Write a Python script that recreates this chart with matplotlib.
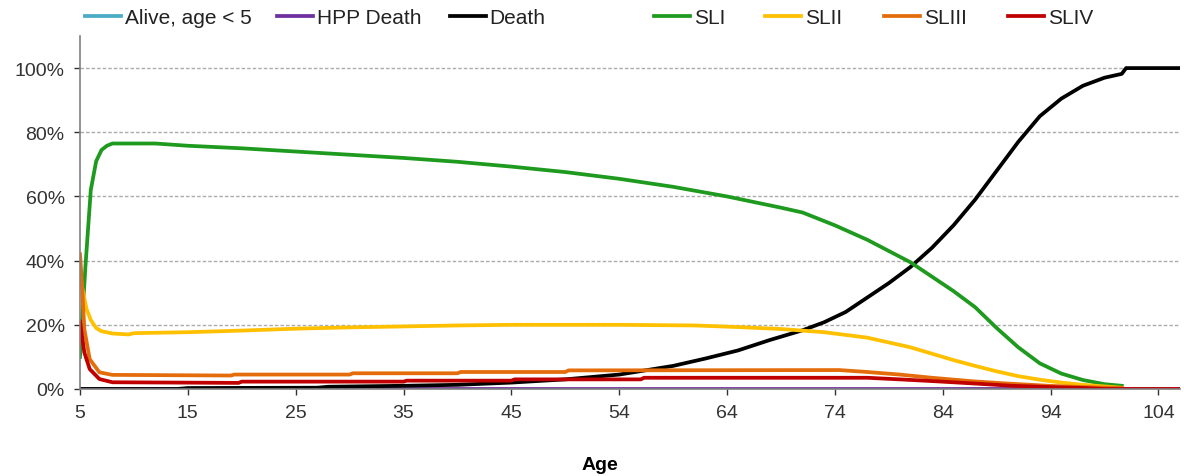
import numpy as np
import matplotlib.pyplot as plt
from matplotlib.lines import Line2D

plt.rcParams['font.family'] = ['Liberation Sans', 'DejaVu Sans']

# series (age, percent)
alive_age = []
alive = []

hpp_age = [5, 107]
hpp = [0, 0]

death_age = [5, 14, 15, 27, 28, 35, 40, 45, 50, 55, 60, 63, 66, 69, 72, 74, 76, 78,
             80, 82, 84, 86, 88, 90, 92, 94, 96, 98, 100, 101.6, 102, 107]
death = [0, 0, 0.3, 0.4, 0.7, 1.0, 1.3, 2.0, 3.0, 4.5, 7.2, 9.5, 12, 15.3, 18.3, 20.8, 24, 28.5,
         33, 38, 44, 51, 59, 68, 77, 85, 90.5, 94.5, 97, 98.2, 100, 100]

sl1_age = [5, 5.5, 6, 6.5, 7, 7.5, 8, 12, 15, 20, 25, 30, 35, 40, 45, 50, 55, 60, 65, 70,
           72, 75, 78, 80, 82, 84, 86, 88, 90, 92, 94, 96, 98, 100, 101.6]
sl1 = [10, 38, 62, 71, 74.5, 75.8, 76.5, 76.5, 75.8, 75, 74, 73, 72, 70.8, 69.3, 67.6, 65.5, 63, 60, 56.5,
       55, 51, 46.5, 43, 39.5, 35, 30.5, 25.5, 19, 13, 8, 4.8, 2.8, 1.5, 1.0]

sl2_age = [5, 5.3, 5.6, 6, 6.5, 7, 8, 9.5, 10, 15, 20, 25, 30, 35, 40, 45, 55, 62, 66, 70,
           74, 78, 82, 84, 86, 88, 90, 92, 94, 96, 98, 100, 101.6]
sl2 = [35, 30, 25, 21.5, 19, 18, 17.3, 17, 17.4, 17.7, 18.2, 18.8, 19.2, 19.5, 19.8, 20, 20, 19.8, 19.3, 18.7,
       17.7, 16, 13, 11, 9, 7.2, 5.5, 4, 2.9, 2.0, 1.3, 0.8, 0.4]

sl3_age = [5, 5.2, 5.4, 5.9, 6.8, 8, 19, 19.3, 30, 30.3, 40, 40.3, 50, 50.3, 75.4, 78, 81, 84, 87.8,
           91, 94.8, 98, 101.6]
sl3 = [42, 32, 18.7, 9.3, 5.2, 4.4, 4.2, 4.5, 4.5, 4.9, 4.9, 5.3, 5.3, 5.8, 5.9, 5.3, 4.5, 3.5, 2.4,
       1.7, 1.0, 0.6, 0.3]

sl4_age = [5, 5.4, 5.9, 6.8, 8, 19.7, 20, 35, 35.3, 45, 45.3, 57, 57.3, 78, 81, 84.4, 88, 91.4,
           95, 98.2, 100, 107]
sl4 = [21, 11.4, 6.2, 3.1, 2.1, 1.9, 2.3, 2.3, 2.6, 2.6, 3.0, 3.0, 3.5, 3.5, 3.0, 2.4, 1.7, 1.0,
       0.6, 0.3, 0, 0]

labels = ['Alive, age < 5', 'HPP Death', 'Death', 'SLI', 'SLII', 'SLIII', 'SLIV']
colors = ['#4BACC6', '#7030A0', '#000000', '#1E9A1E', '#FFC000', '#E46C0A', '#C00000']
xs = [alive_age, hpp_age, death_age, sl1_age, sl2_age, sl3_age, sl4_age]
ys = [alive, hpp, death, sl1, sl2, sl3, sl4]

tick_pos = [5, 15, 25, 35, 45, 55, 65, 75, 85, 95, 105]
tick_labels = ['5', '15', '25', '35', '45', '54', '64', '74', '84', '94', '104']

fig = plt.figure(figsize=(11.84, 4.77), dpi=100)
ax = fig.add_axes([80 / 1184, 1 - 390 / 477, 1100 / 1184, 353 / 477])

for x, y, c, lab in zip(xs, ys, colors, labels):
    ax.plot(x, y, color=c, lw=2.7, label=lab, solid_joinstyle='round')

ax.set_xlim(5, 107)
ax.set_ylim(0, 110)
ax.set_yticks([0, 20, 40, 60, 80, 100])
ax.set_yticklabels([f'{v}%' for v in [0, 20, 40, 60, 80, 100]])
ax.set_xticks(tick_pos)
ax.set_xticklabels(tick_labels)
for v in [20, 40, 60, 80, 100]:
    ax.axhline(v, color='#ABABAB', lw=1, ls=(0, (2.5, 1.5)), zorder=0)

ax.tick_params(labelsize=14, colors='#333333', length=4, width=1)
ax.tick_params(axis='x', pad=7)
ax.tick_params(axis='y', pad=7)
for s in ['top', 'right']:
    ax.spines[s].set_visible(False)
for s in ['left', 'bottom']:
    ax.spines[s].set_color('#808080')
    ax.spines[s].set_linewidth(1.2)

ax.set_xlabel('Age', fontsize=14, fontweight='bold')
ax.xaxis.set_label_coords(0.473, -0.19)

# legend entries placed individually like the original
leg_x = [85, 277, 450, 654, 765, 884, 1008]
for lx, c, lab in zip(leg_x, colors, labels):
    h = Line2D([], [], color=c, lw=2.7)
    lg = fig.legend([h], [lab], loc='center left', bbox_to_anchor=(lx / 1184, 1 - 19 / 477),
                    frameon=False, fontsize=15, handlelength=1.75, handletextpad=0.15,
                    borderpad=0, borderaxespad=0)
    for t in lg.get_texts():
        t.set_color('#222222')

fig.savefig('out.png', dpi=100)
